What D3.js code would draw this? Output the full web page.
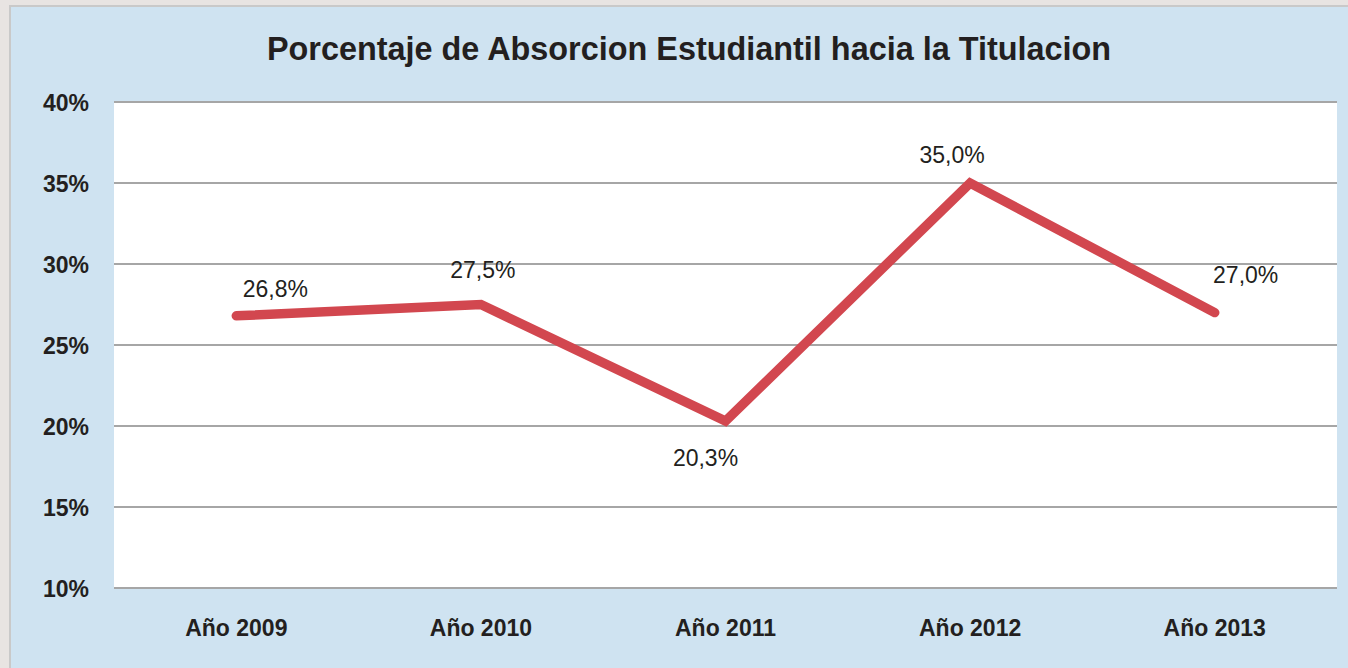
<!DOCTYPE html>
<html><head><meta charset="utf-8">
<script src="https://cdn.jsdelivr.net/npm/d3@7"></script>
<style>
html,body{margin:0;padding:0;background:#e8e4e2;}
svg{display:block;}
</style></head>
<body>
<script>
const title = "Porcentaje de Absorcion Estudiantil hacia la Titulacion";
const categories = ["Año 2009","Año 2010","Año 2011","Año 2012","Año 2013"];
const values = [26.8, 27.5, 20.3, 35.0, 27.0];
const valueLabels = ["26,8%","27,5%","20,3%","35,0%","27,0%"];
const yTicks = [10,15,20,25,30,35,40];

const W = 1348, H = 668;
const svg = d3.select("body").append("svg").attr("width", W).attr("height", H);

// panel
svg.append("rect").attr("x",9).attr("y",5).attr("width",W-9).attr("height",H-5).attr("fill","#c9c9c9");
svg.append("rect").attr("x",11).attr("y",7).attr("width",W-11).attr("height",H-7).attr("fill","#cfe3f1");

const plot = {l:114, r:1337, t:102, b:588};
svg.append("rect").attr("x",plot.l).attr("y",plot.t).attr("width",plot.r-plot.l).attr("height",plot.b-plot.t).attr("fill","#ffffff");

const x = d3.scaleBand().domain(categories).range([plot.l, plot.r]);
const y = d3.scaleLinear().domain([10,40]).range([plot.b, plot.t]);

// gridlines
svg.append("g").selectAll("line").data(yTicks).join("line")
  .attr("x1",plot.l).attr("x2",plot.r)
  .attr("y1",d=>y(d)).attr("y2",d=>y(d))
  .attr("stroke","#a6a6a6").attr("stroke-width",2);

const font = "'Liberation Sans', Arial, Helvetica, sans-serif";

// y axis labels
const yAxis = d3.axisLeft(y).tickValues(yTicks).tickFormat(d=>d+"%").tickSize(0).tickPadding(0);
const gy = svg.append("g").attr("transform",`translate(89,0)`).call(yAxis);
gy.select(".domain").remove();
gy.selectAll("text").attr("font-family",font)
  .attr("font-size",23).attr("font-weight","bold").attr("fill","#231f20").attr("dy","0.36em");

// x axis labels
const xAxis = d3.axisBottom(x).tickSize(0).tickPadding(0);
const gx = svg.append("g").attr("transform",`translate(0,${plot.b+32})`).call(xAxis);
gx.select(".domain").remove();
gx.selectAll("text").attr("font-family",font)
  .attr("font-size",23).attr("font-weight","bold").attr("fill","#231f20");

// line
const cx = d => x(d) + x.bandwidth()/2;
const line = d3.line().x((d,i)=>cx(categories[i])).y(d=>y(d));
svg.append("path").datum(values).attr("d",line)
  .attr("fill","none").attr("stroke","#d2474f").attr("stroke-width",9.5)
  .attr("stroke-linecap","round").attr("stroke-linejoin","miter");

// data labels (offsets relative to each point)
const offs = [[39,-19],[2,-27],[-20,45],[-18,-20],[31,-30]];
svg.append("g").selectAll("text").data(values).join("text")
  .attr("x",(d,i)=>cx(categories[i])+offs[i][0])
  .attr("y",(d,i)=>y(d)+offs[i][1])
  .attr("text-anchor","middle")
  .attr("font-family",font)
  .attr("font-size",23).attr("fill","#231f20")
  .text((d,i)=>valueLabels[i]);

// title
svg.append("text").attr("x",689).attr("y",60).attr("text-anchor","middle")
  .attr("font-family",font)
  .attr("font-size",32.4).attr("font-weight","bold").attr("fill","#231f20")
  .text(title);
</script>
</body></html>
